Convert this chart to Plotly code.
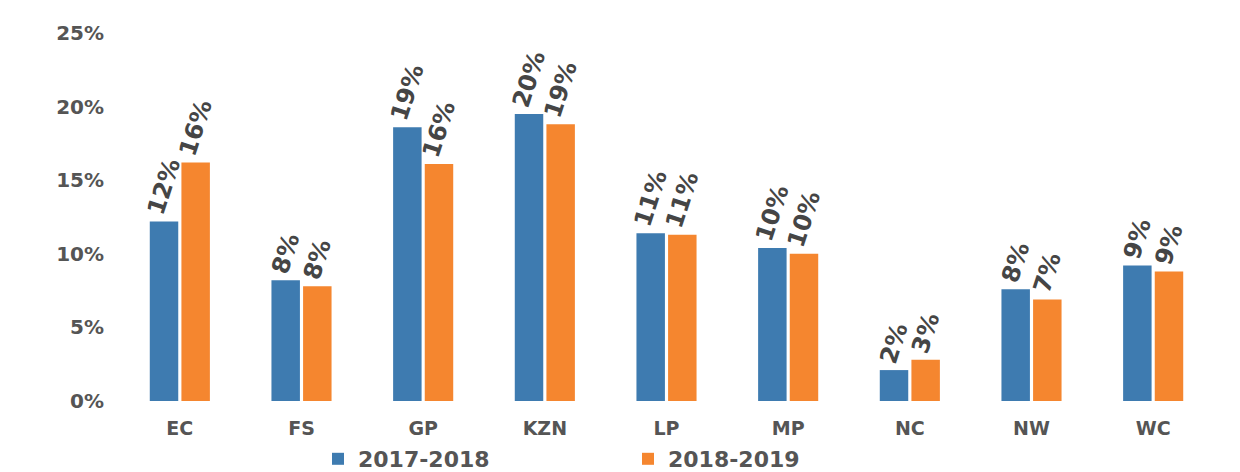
import plotly.graph_objects as go

categories = ["EC", "FS", "GP", "KZN", "LP", "MP", "NC", "NW", "WC"]
series_2017 = [0.122, 0.082, 0.186, 0.195, 0.114, 0.104, 0.021, 0.076, 0.092]
series_2018 = [0.162, 0.078, 0.161, 0.188, 0.113, 0.100, 0.028, 0.069, 0.088]
tick_vals = [0, 0.05, 0.10, 0.15, 0.20, 0.25]
tick_text = ["0%", "5%", "10%", "15%", "20%", "25%"]

FONT = "DejaVu Sans"
GRAY = "#555555"

fig = go.Figure()
for name, vals, color in [("<b>2017-2018</b>", series_2017, "#3E7BB0"),
                          ("<b>2018-2019</b>", series_2018, "#F5862F")]:
    fig.add_trace(go.Bar(
        x=categories, y=vals, name=name, marker=dict(color=color, line=dict(width=0)),
        text=["<b>%d%%</b>" % round(v * 100 + 1e-9) for v in vals],
        texttemplate="%{text}", textposition="outside", textangle=-72,
        constraintext="none",
        textfont=dict(family=FONT, size=24, color="#454545"), cliponaxis=False,
    ))

fig.update_layout(
    width=1240, height=472,
    margin=dict(l=111, r=34, t=25, b=79, autoexpand=False),
    paper_bgcolor="white", plot_bgcolor="white",
    barmode="group", bargap=0.48, bargroupgap=0.1,
    font=dict(family=FONT, color=GRAY),
    xaxis=dict(showline=False, showgrid=False, ticks="outside", ticklen=10,
               tickcolor="rgba(0,0,0,0)", automargin=False,
               tickfont=dict(family=FONT, size=19, color=GRAY),
               tickprefix="<b>", ticksuffix="</b>"),
    yaxis=dict(range=[0, 0.25], tickvals=tick_vals, ticktext=["<b>%s</b>" % t for t in tick_text],
               showgrid=False, zeroline=False, showline=False, automargin=False,
               tickfont=dict(family=FONT, size=20, color=GRAY), ticklabelstandoff=14),
    legend=dict(orientation="h", x=0.5, xanchor="center", xref="container",
                y=0.0, yanchor="bottom", yref="container",
                font=dict(family=FONT, size=22, color=GRAY), itemwidth=30,
                entrywidth=265, traceorder="normal"),
)

fig.write_html("out.html")
